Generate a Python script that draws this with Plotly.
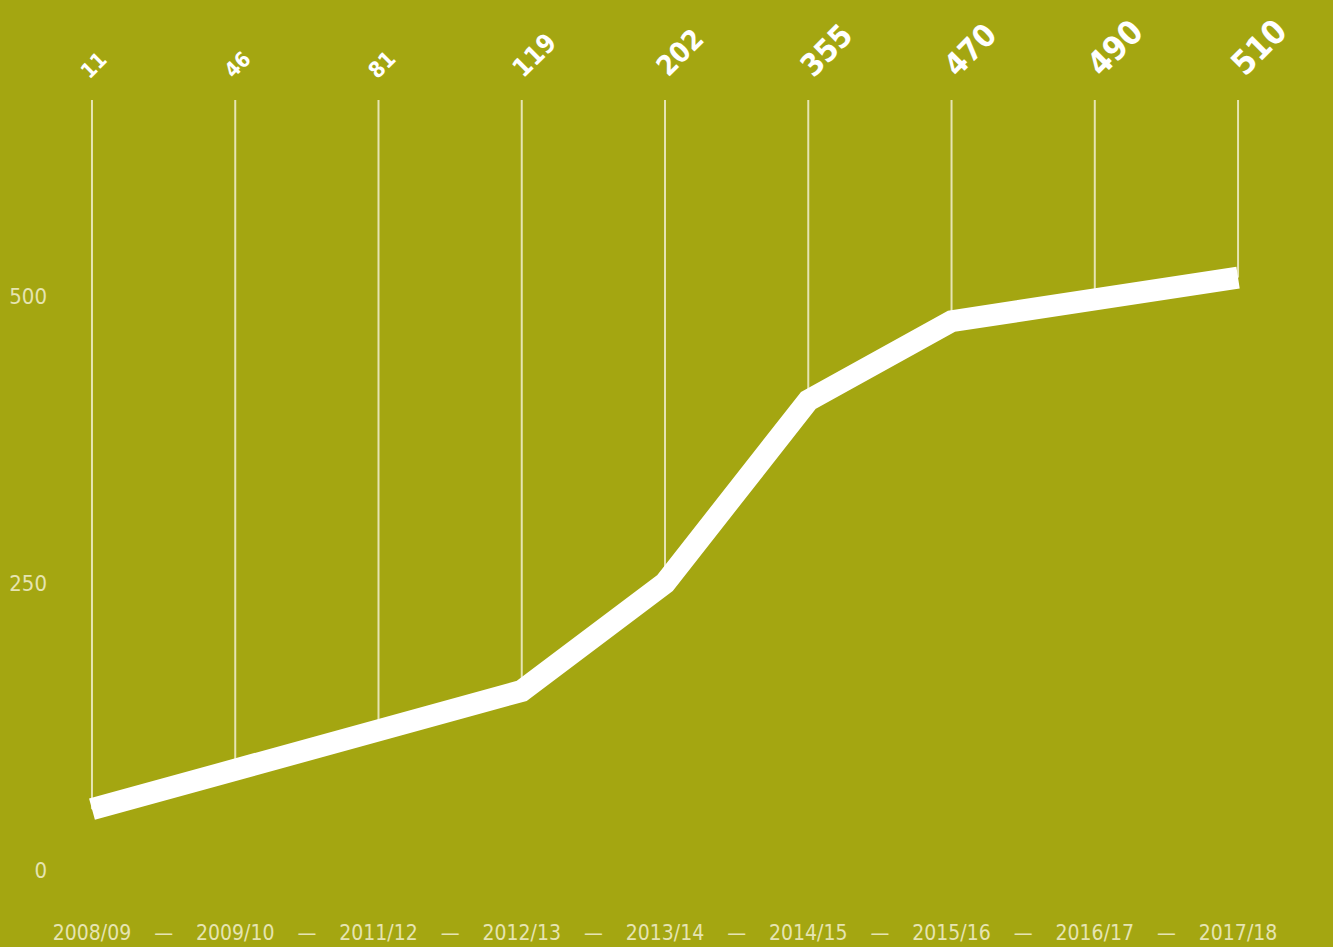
import plotly.graph_objects as go

# ---- data ----
seasons = ["2008/09", "2009/10", "2011/12", "2012/13", "2013/14",
           "2014/15", "2015/16", "2016/17", "2017/18"]
line_values = [53, 86, 119, 156, 250, 409, 478, 497, 516]
top_labels = ["11", "46", "81", "119", "202", "355", "470", "490", "510"]
label_sizes = [21, 21, 22, 26, 28, 31, 31, 33, 33]
y_ticks = [0, 250, 500]

BG = "#a4a611"
PALE = "#e6e4b2"
Y_TOP = 670.7
Y_BOTTOM = -41.8
FONT_NARROW = "DejaVu Sans Condensed, sans-serif"

xs = list(range(len(seasons)))

# season labels on the axis, with a dash between consecutive seasons
tick_vals, tick_text = [], []
for i, s in enumerate(seasons):
    tick_vals.append(i)
    tick_text.append(s)
    if i < len(seasons) - 1:
        tick_vals.append(i + 0.5)
        tick_text.append("—")

fig = go.Figure()

# thin vertical drop lines from the top of the plot to the line
for i, v in enumerate(line_values):
    fig.add_trace(go.Scatter(
        x=[i, i], y=[v, Y_TOP], mode="lines",
        line=dict(color=PALE, width=2), hoverinfo="skip", showlegend=False))

# thick white line
fig.add_trace(go.Scatter(
    x=xs, y=line_values, mode="lines",
    line=dict(color="white", width=22), showlegend=False,
    hovertemplate="%{y}<extra></extra>"))

# rotated value labels at the top
for i, (t, s) in enumerate(zip(top_labels, label_sizes)):
    fig.add_annotation(
        x=i, y=1, xref="x", yref="paper", text=f"<b>{t}</b>",
        showarrow=False, textangle=-45, xanchor="left", yanchor="bottom",
        xshift=-18, yshift=14,
        font=dict(family=FONT_NARROW, size=s, color="white"))

fig.update_layout(
    width=1333, height=947,
    paper_bgcolor=BG, plot_bgcolor=BG,
    margin=dict(l=48, r=60, t=100, b=29),
    showlegend=False,
    xaxis=dict(
        range=[-0.307, 8.244], tickmode="array",
        tickvals=tick_vals, ticktext=tick_text,
        showgrid=False, zeroline=False, showline=False, ticks="",
        automargin=False,
        tickfont=dict(family=FONT_NARROW, size=21, color=PALE)),
    yaxis=dict(
        range=[Y_BOTTOM, Y_TOP], tickmode="array", tickvals=y_ticks,
        showgrid=False, zeroline=False, showline=False, ticks="",
        automargin=False,
        tickfont=dict(family=FONT_NARROW, size=22, color=PALE)),
)

fig.write_html(
    "out.html",
    config={"displayModeBar": False},
    post_script="document.body.style.margin='0';"
                "document.body.style.background='" + BG + "';"
                "document.body.style.overflow='hidden';")
